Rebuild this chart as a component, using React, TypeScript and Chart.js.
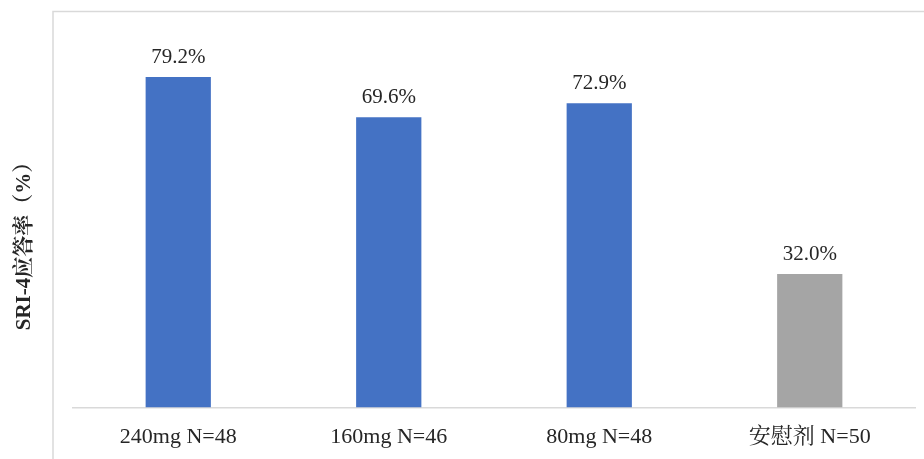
import React, { useEffect, useRef } from "react";
import { Chart, registerables } from "chart.js";

Chart.register(...registerables);

const categories = ["240mg N=48", "160mg N=46", "80mg N=48", "安慰剂 N=50"];
const values = [79.2, 69.6, 72.9, 32.0];
const barColors = ["#4472C4", "#4472C4", "#4472C4", "#A5A5A5"];
const yTitle = "SRI-4应答率（%）";

const SERIF = '"Liberation Serif", "Times New Roman", "Noto Serif CJK SC", serif';

const framePlugin = {
  id: "frame",
  beforeDraw(chart: any) {
    const ctx = chart.ctx;
    ctx.save();
    ctx.strokeStyle = "#d9d9d9";
    ctx.lineWidth = 1.5;
    ctx.beginPath();
    ctx.moveTo(53, chart.height);
    ctx.lineTo(53, 11.5);
    ctx.lineTo(chart.width, 11.5);
    ctx.stroke();
    ctx.translate(25, 241);
    ctx.rotate(-Math.PI / 2);
    ctx.fillStyle = "#262626";
    ctx.font = "bold 21px " + SERIF;
    ctx.textAlign = "center";
    ctx.textBaseline = "middle";
    ctx.fillText(yTitle, 0, 0);
    ctx.restore();
  },
};

const labelPlugin = {
  id: "barLabels",
  afterDatasetsDraw(chart: any) {
    const ctx = chart.ctx;
    const meta = chart.getDatasetMeta(0);
    ctx.save();
    ctx.fillStyle = "#262626";
    ctx.font = "21px " + SERIF;
    ctx.textAlign = "center";
    ctx.textBaseline = "bottom";
    meta.data.forEach((el: any, i: number) => {
      ctx.fillText(values[i].toFixed(1) + "%", el.x, el.y - 9);
    });
    ctx.restore();
  },
};

export default function App() {
  const ref = useRef<HTMLCanvasElement>(null);
  useEffect(() => {
    document.body.style.margin = "0";
    const chart = new Chart(ref.current!, {
      type: "bar",
      data: {
        labels: categories,
        datasets: [
          {
            data: values,
            backgroundColor: barColors,
            categoryPercentage: 1,
            barPercentage: 0.31,
          },
        ],
      },
      options: {
        animation: false,
        responsive: false,
        layout: { padding: { left: 73, right: 9, top: 32, bottom: -7 } },
        plugins: { legend: { display: false }, tooltip: { enabled: false } },
        scales: {
          x: {
            grid: { display: false, drawTicks: false },
            border: { display: true, color: "#d9d9d9", width: 1.5 },
            ticks: { color: "#262626", font: { size: 22, family: SERIF }, padding: 16 },
          },
          y: { display: false, min: 0, max: 90 },
        },
      },
      plugins: [framePlugin, labelPlugin],
    });
    return () => chart.destroy();
  }, []);
  return (
    <div style={{ position: "absolute", left: 0, top: 0, width: 924, height: 459 }}>
      <canvas ref={ref} width={924} height={459} />
    </div>
  );
}
